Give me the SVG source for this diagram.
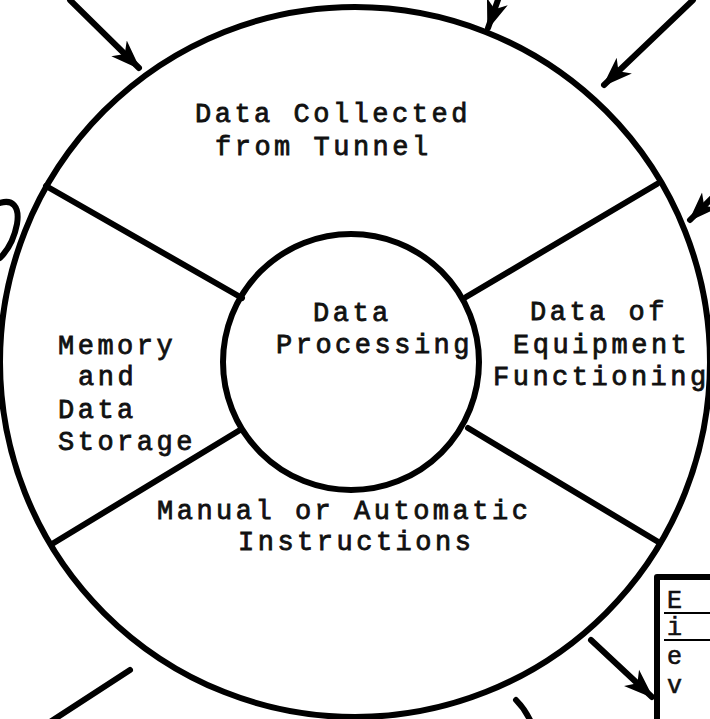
<svg xmlns="http://www.w3.org/2000/svg" width="710" height="719" viewBox="0 0 710 719">
  <style>
    .ln { fill: none; stroke: #000; stroke-width: 6; stroke-linecap: round; stroke-linejoin: round; }
    .tx { font-family: "Liberation Mono", "DejaVu Sans Mono", monospace; font-size: 27px; letter-spacing: 3.5px; fill: #111; stroke: #111; stroke-width: 0.8; }
    .bx { font-family: "Liberation Mono", "DejaVu Sans Mono", monospace; font-size: 25px; fill: #111; stroke: #111; stroke-width: 0.6; }
  </style>
  <defs>
    <marker id="ah" markerUnits="userSpaceOnUse" viewBox="0 0 30 24" refX="28" refY="12" markerWidth="30" markerHeight="24" orient="auto">
      <path d="M0,1 L30,12 L0,23 L8,12 Z" fill="#000"/>
    </marker>
  </defs>
  <rect width="710" height="719" fill="#fff"/>

  <g id="outer-ring">
    <circle class="ln" cx="355" cy="362" r="355"/>
  </g>
  <g id="dividers">
    <line class="ln" x1="46" y1="186" x2="242" y2="298"/>
    <line class="ln" x1="657" y1="184" x2="466" y2="297"/>
    <line class="ln" x1="52" y1="544" x2="240" y2="430"/>
    <line class="ln" x1="660" y1="543" x2="468" y2="428"/>
  </g>

  <g id="data-collected">
    <text class="tx" x="195" y="122">Data Collected</text>
    <text class="tx" x="215" y="155">from Tunnel</text>
  </g>
  <g id="memory-storage">
    <text class="tx" x="58" y="354">Memory</text>
    <text class="tx" x="78" y="385">and</text>
    <text class="tx" x="58" y="418">Data</text>
    <text class="tx" x="58" y="450">Storage</text>
  </g>
  <g id="data-processing">
    <circle class="ln" cx="351" cy="362" r="128" stroke-width="5"/>
    <text class="tx" x="313" y="321">Data</text>
    <text class="tx" x="276" y="353">Processing</text>
  </g>
  <g id="equipment">
    <text class="tx" x="530" y="320">Data of</text>
    <text class="tx" x="513" y="353">Equipment</text>
    <text class="tx" x="493" y="385">Functioning</text>
  </g>
  <g id="instructions">
    <text class="tx" x="157" y="519">Manual or Automatic</text>
    <text class="tx" x="238" y="550">Instructions</text>
  </g>

  <g id="side-box">
    <path class="ln" d="M657,722 L657,577 L714,577" stroke-width="5"/>
    <text class="bx" x="667" y="608">E</text>
    <line x1="664" y1="613" x2="710" y2="613" stroke="#000" stroke-width="2"/>
    <text class="bx" x="667" y="635">i</text>
    <line x1="664" y1="640" x2="710" y2="640" stroke="#000" stroke-width="2"/>
    <text class="bx" x="667" y="664">e</text>
    <text class="bx" x="667" y="693">v</text>
  </g>

  <g id="connectors">
    <line class="ln" x1="70" y1="0" x2="139" y2="68" marker-end="url(#ah)"/>
    <line class="ln" x1="505" y1="-20" x2="488" y2="28" marker-end="url(#ah)"/>
    <line class="ln" x1="693" y1="0" x2="604" y2="85" marker-end="url(#ah)"/>
    <line class="ln" x1="760" y1="150" x2="690" y2="220" marker-end="url(#ah)"/>
    <line class="ln" x1="591" y1="640" x2="652" y2="697" marker-end="url(#ah)"/>
    <line class="ln" x1="130" y1="670" x2="50" y2="722"/>
    <path class="ln" d="M516,700 Q525,709 531,722"/>
    <path class="ln" d="M0,203 C12,199 20,206 17,224 C14,240 8,250 0,258"/>
  </g>
</svg>
